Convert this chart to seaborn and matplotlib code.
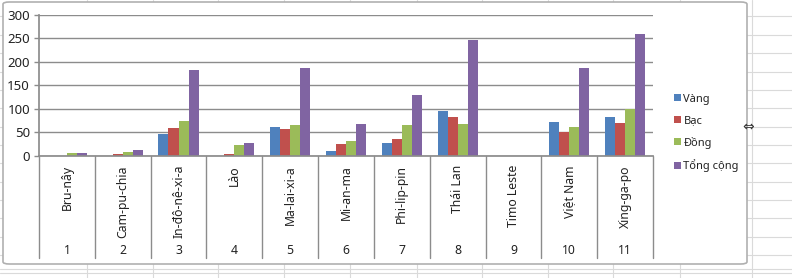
import matplotlib
matplotlib.use("Agg")
import matplotlib.pyplot as plt
import matplotlib.transforms as mtransforms
from matplotlib.patches import FancyBboxPatch, Patch
from matplotlib.lines import Line2D
import seaborn as sns
import pandas as pd

countries = ["Bru-nây", "Cam-pu-chia", "In-đô-nê-xi-a", "Lào", "Ma-lai-xi-a",
             "Mi-an-ma", "Phi-lip-pin", "Thái Lan", "Timo Leste", "Việt Nam", "Xing-ga-po"]
numbers = ["1", "2", "3", "4", "5", "6", "7", "8", "9", "10", "11"]
series = ["Vàng", "Bạc", "Đồng", "Tổng cộng"]
vang = [0, 0, 47, 0, 62, 11, 27, 95, 0, 72, 83]
bac = [0, 4, 60, 4, 58, 25, 36, 83, 0, 52, 71]
dong = [6, 9, 74, 23, 66, 31, 66, 68, 0, 61, 100]
tong = [6, 13, 182, 27, 186, 68, 129, 247, 0, 186, 259]
colors = ["#4F81BD", "#C0504D", "#9BBB59", "#8064A2"]

sns.set_theme(style="white")
plt.rcParams["font.family"] = ["Noto Sans", "DejaVu Sans"]

rows = []
for s, vals in zip(series, [vang, bac, dong, tong]):
    for c, v in zip(countries, vals):
        rows.append({"country": c, "series": s, "value": v})
df = pd.DataFrame(rows)

W, H = 792, 278
fig = plt.figure(figsize=(W / 100, H / 100), dpi=100)
fig.patch.set_facecolor("white")

# spreadsheet grid behind the chart
grid_c = "#DADADA"
for y in [16, 35, 53, 72, 90, 108, 127, 145, 163, 182, 200, 218, 237, 255, 269, 273]:
    fig.add_artist(Line2D([0, 1], [1 - y / H, 1 - y / H], transform=fig.transFigure,
                          color=grid_c, lw=0.8, zorder=0))
for x in [87, 153, 218, 284, 350, 417, 482, 548, 613, 680, 752]:
    fig.add_artist(Line2D([x / W, x / W], [0, 1], transform=fig.transFigure,
                          color=grid_c, lw=0.8, zorder=0))

# chart area
box = FancyBboxPatch((3 / W, 1 - 264 / H), 744 / W, 262 / H,
                     boxstyle="round,pad=0,rounding_size=0.008",
                     transform=fig.transFigure, facecolor="white",
                     edgecolor="#B0B0B0", lw=1.2, zorder=1)
fig.add_artist(box)

ax = fig.add_axes([39 / W, 1 - 156 / H, (653 - 39) / W, (156 - 14.7) / H])
ax.set_facecolor("none")
ax.set_zorder(2)

sns.barplot(data=df, x="country", y="value", hue="series", hue_order=series,
            palette=colors, width=0.72, saturation=1, ax=ax, legend=False,
            edgecolor="none", linewidth=0)

ax.set_ylim(0, 300)
ax.set_xlim(-0.5, len(countries) - 0.5)
ax.set_yticks(range(0, 301, 50))
ax.yaxis.grid(True, color="#8C8C8C", lw=1)
ax.set_axisbelow(True)
for sp in ["top", "right"]:
    ax.spines[sp].set_visible(False)
ax.spines["left"].set_color("#8C8C8C")
ax.spines["bottom"].set_color("#8C8C8C")
ax.tick_params(axis="y", length=3.5, width=1, color="#8C8C8C", labelsize=9.5,
               labelcolor="#222222", left=True, pad=3)
ax.tick_params(axis="x", length=0, labelbottom=False)
ax.set_xlabel("")
ax.set_ylabel("")

trans = mtransforms.blended_transform_factory(ax.transData, ax.transAxes)
ax_h_px = 156 - 14.7
bottom_y = -(258 - 156) / ax_h_px
for i in range(len(countries) + 1):
    ax.add_line(Line2D([i - 0.5, i - 0.5], [0, bottom_y], transform=trans,
                       color="#8C8C8C", lw=1, clip_on=False))
for i, (c, n) in enumerate(zip(countries, numbers)):
    ax.text(i, -(165 - 156) / ax_h_px, c, transform=trans, rotation=90,
            ha="center", va="top", fontsize=8.8, color="#222222")
    ax.text(i, -(250 - 156) / ax_h_px, n, transform=trans,
            ha="center", va="center", fontsize=8.8, color="#222222")

handles = [Patch(facecolor=col, edgecolor="none") for col in colors]
fig.legend(handles, series, loc="center left", bbox_to_anchor=(664 / W, 1 - 133 / H),
           frameon=False, handlelength=0.6, handleheight=0.6, labelspacing=0.95,
           handletextpad=0.25, fontsize=8, labelcolor="#222222")

fig.text(748 / W, 1 - 127 / H, "⇔", ha="center", va="center", fontsize=10,
         color="#333333", family=["DejaVu Sans"])

fig.savefig("out.png", dpi=100, facecolor="white")
